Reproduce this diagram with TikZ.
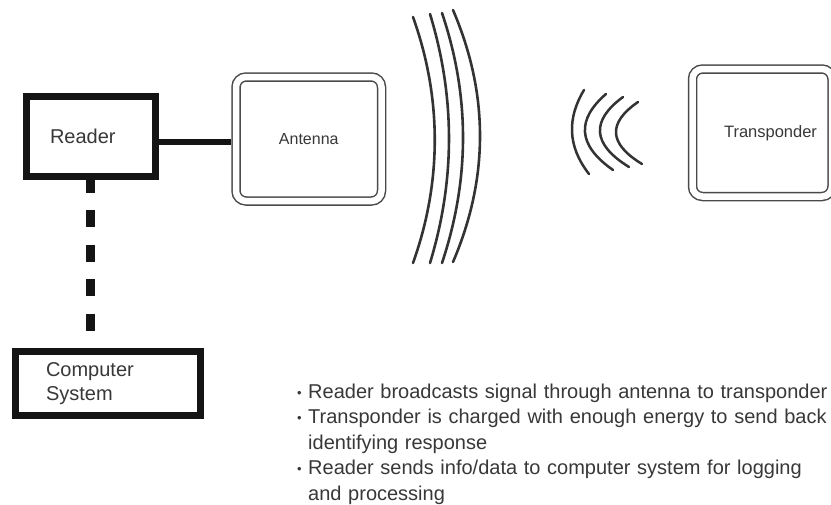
\documentclass[tikz,border=0pt]{standalone}
\usepackage{fontspec}
\setmainfont{Liberation Sans}
\definecolor{ink}{HTML}{141414}
\definecolor{txt}{HTML}{383838}
\definecolor{frame}{HTML}{4A4A4A}
\definecolor{wave}{HTML}{333333}
\begin{document}
\begin{tikzpicture}[x=1pt,y=-1pt,
  heavybox/.style={draw=ink, line width=7pt, rectangle, inner ysep=0pt, text=txt, align=left},
  dblbox/.style={draw=frame, line width=1.5pt, double=white, double distance=6.5pt,
                 rounded corners=10pt, outer sep=4.75pt, text=txt},
  link/.style={draw=ink, line width=6pt},
  dashlink/.style={draw=ink, line width=9pt, dash pattern=on 17pt off 17.5pt, dash phase=4pt},
  bigwave/.style={draw=wave, line width=2.6pt, line cap=round},
  smallwave/.style={draw=wave, line width=2.5pt, line cap=round},
  notes/.style={text=txt, inner sep=0pt, align=left}
]
\useasboundingbox (0,0) rectangle (831,504);
\fill[white] (0,0) rectangle (831,504);

% boxes
\node[heavybox, minimum width=129pt, minimum height=80pt, text width=81pt, inner xsep=24pt,
      font=\fontsize{20}{24}\selectfont] (reader) at (90.5,136) {Reader};
\node[heavybox, minimum width=185pt, minimum height=64pt, text width=124pt, inner xsep=30.5pt,
      font=\fontsize{20}{24}\selectfont] (computer) at (108,383.5) {Computer\\System};
\node[dblbox, minimum width=145.5pt, minimum height=124pt,
      font=\fontsize{16}{19}\selectfont] (antenna) at (308.75,139) {Antenna};
\node[dblbox, minimum width=139.5pt, minimum height=127.5pt, text width=109.5pt, inner xsep=15pt,
      align=right, font=\fontsize{16.5}{19}\selectfont] (transponder) at (762.25,132.75) {Transponder};

% connectors
\draw[link] (reader.east |- 0,142) -- (antenna.west |- 0,142);
\draw[dashlink] (reader.south) -- (reader.south |- computer.north);

% broadcast waves
\draw[bigwave] (413,17) .. controls (442,98) and (442,182) .. (413,263);
\draw[bigwave] (430,14) .. controls (455.3,97) and (455.3,180) .. (430,263);
\draw[bigwave] (442,13) .. controls (470,96) and (470,179) .. (442,263);
\draw[bigwave] (453,10) .. controls (489,94) and (489,178) .. (453,262);

% response waves
\draw[smallwave] (584,90) .. controls (567.2,118) and (567.2,146) .. (589,174);
\draw[smallwave] (606,94) .. controls (576.8,119.3) and (576.8,144.7) .. (613,170);
\draw[smallwave] (623,97) .. controls (591.3,120.3) and (591.3,143.7) .. (629,167);
\draw[smallwave] (638,102) .. controls (608,122.7) and (608,143.3) .. (642,164);

% notes
\node[notes, anchor=base west, text width=540pt, font=\fontsize{20}{25.5}\selectfont] (list) at (297,398)
{\leftskip=11pt
\noindent\llap{\makebox[11pt][l]{\fontsize{13}{13}\selectfont\raisebox{1pt}{•}}}Reader broadcasts signal through antenna to transponder\par
\noindent\llap{\makebox[11pt][l]{\fontsize{13}{13}\selectfont\raisebox{1pt}{•}}}Transponder is charged with enough energy to send back\newline identifying response\par
\noindent\llap{\makebox[11pt][l]{\fontsize{13}{13}\selectfont\raisebox{1pt}{•}}}Reader sends info/data to computer system for logging\newline and processing\par};
\end{tikzpicture}
\end{document}
